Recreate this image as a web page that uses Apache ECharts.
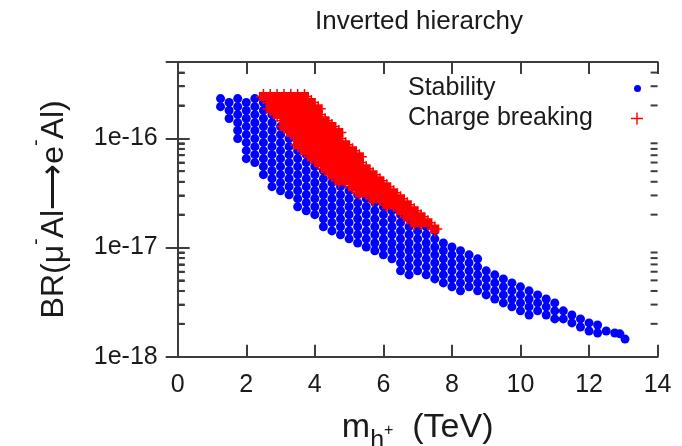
<!DOCTYPE html>
<html>
<head>
<meta charset="utf-8">
<script src="https://cdn.jsdelivr.net/npm/echarts@6/dist/echarts.min.js"></script>
<style>
  html, body { margin: 0; padding: 0; background: #fff; }
  #chart { width: 682px; height: 446px; }
</style>
</head>
<body>
<div id="chart"></div>
<script>
// m_h+ (TeV) columns of the "Stability" points, with the BR values read in each column
const stabX = [1.25, 1.5, 1.75, 2.0, 2.25, 2.5, 2.75, 3.0, 3.25, 3.5, 3.75, 4.0, 4.25, 4.5, 4.75,
  5.0, 5.25, 5.5, 5.75, 6.0, 6.25, 6.5, 6.75, 7.0, 7.25, 7.5, 7.75, 8.0, 8.25, 8.5, 8.75,
  9.0, 9.25, 9.5, 9.75, 10.0, 10.25, 10.5, 10.75, 11.0, 11.25, 11.5, 11.75, 12.0, 12.25,
  12.5, 12.75, 12.9, 13.05]
const stabY = [
  [2.31e-16, 1.95e-16],
  [2.13e-16, 1.80e-16, 1.52e-16],
  [2.31e-16, 1.95e-16, 1.65e-16, 1.39e-16, 1.18e-16, 9.94e-17],
  [2.13e-16, 1.80e-16, 1.52e-16, 1.28e-16, 1.08e-16, 9.13e-17, 7.71e-17, 6.51e-17],
  [2.31e-16, 1.95e-16, 1.65e-16, 1.39e-16, 1.18e-16, 9.94e-17, 8.39e-17, 7.09e-17, 5.99e-17],
  [2.13e-16, 1.80e-16, 1.52e-16, 1.28e-16, 1.08e-16, 9.13e-17, 7.71e-17, 6.51e-17, 5.50e-17, 4.65e-17],
  [1.65e-16, 1.39e-16, 1.18e-16, 9.94e-17, 8.39e-17, 7.09e-17, 5.99e-17, 5.05e-17, 4.27e-17, 3.61e-17],
  [1.28e-16, 1.08e-16, 9.13e-17, 7.71e-17, 6.51e-17, 5.50e-17, 4.65e-17, 3.92e-17, 3.31e-17],
  [1.18e-16, 9.94e-17, 8.39e-17, 7.09e-17, 5.99e-17, 5.05e-17, 4.27e-17, 3.61e-17, 3.04e-17],
  [9.13e-17, 7.71e-17, 6.51e-17, 5.50e-17, 4.65e-17, 3.92e-17, 3.31e-17, 2.80e-17, 2.36e-17],
  [7.09e-17, 5.99e-17, 5.05e-17, 4.27e-17, 3.61e-17, 3.04e-17, 2.57e-17, 2.17e-17],
  [6.51e-17, 5.50e-17, 4.65e-17, 3.92e-17, 3.31e-17, 2.80e-17, 2.36e-17, 2.00e-17],
  [5.05e-17, 4.27e-17, 3.61e-17, 3.04e-17, 2.57e-17, 2.17e-17, 1.83e-17, 1.55e-17],
  [4.65e-17, 3.92e-17, 3.31e-17, 2.80e-17, 2.36e-17, 2.00e-17, 1.69e-17, 1.42e-17],
  [4.27e-17, 3.61e-17, 3.04e-17, 2.57e-17, 2.17e-17, 1.83e-17, 1.55e-17, 1.31e-17],
  [3.31e-17, 2.80e-17, 2.36e-17, 2.00e-17, 1.69e-17, 1.42e-17, 1.20e-17],
  [3.04e-17, 2.57e-17, 2.17e-17, 1.83e-17, 1.55e-17, 1.31e-17, 1.10e-17],
  [2.80e-17, 2.36e-17, 2.00e-17, 1.69e-17, 1.42e-17, 1.20e-17, 1.01e-17],
  [2.57e-17, 2.17e-17, 1.83e-17, 1.55e-17, 1.31e-17, 1.10e-17, 9.33e-18],
  [2.36e-17, 2.00e-17, 1.69e-17, 1.42e-17, 1.20e-17, 1.01e-17, 8.57e-18],
  [2.17e-17, 1.83e-17, 1.55e-17, 1.31e-17, 1.10e-17, 9.33e-18, 7.88e-18],
  [2.00e-17, 1.69e-17, 1.42e-17, 1.20e-17, 1.01e-17, 8.57e-18, 7.24e-18, 6.11e-18],
  [1.83e-17, 1.55e-17, 1.31e-17, 1.10e-17, 9.33e-18, 7.88e-18, 6.65e-18, 5.62e-18],
  [1.69e-17, 1.42e-17, 1.20e-17, 1.01e-17, 8.57e-18, 7.24e-18, 6.11e-18],
  [1.55e-17, 1.31e-17, 1.10e-17, 9.33e-18, 7.88e-18, 6.65e-18, 5.62e-18],
  [1.42e-17, 1.20e-17, 1.01e-17, 8.57e-18, 7.24e-18, 6.11e-18, 5.16e-18],
  [1.10e-17, 9.33e-18, 7.88e-18, 6.65e-18, 5.62e-18, 4.74e-18],
  [1.01e-17, 8.57e-18, 7.24e-18, 6.11e-18, 5.16e-18, 4.36e-18],
  [9.33e-18, 7.88e-18, 6.65e-18, 5.62e-18, 4.74e-18, 4.01e-18],
  [8.57e-18, 7.24e-18, 6.11e-18, 5.16e-18, 4.36e-18],
  [7.88e-18, 6.65e-18, 5.62e-18, 4.74e-18, 4.01e-18],
  [6.11e-18, 5.16e-18, 4.36e-18, 3.68e-18],
  [5.62e-18, 4.74e-18, 4.01e-18, 3.38e-18],
  [5.16e-18, 4.36e-18, 3.68e-18, 3.11e-18],
  [4.74e-18, 4.01e-18, 3.38e-18, 2.86e-18],
  [4.36e-18, 3.68e-18, 3.11e-18, 2.63e-18],
  [4.01e-18, 3.38e-18, 2.86e-18, 2.41e-18],
  [3.68e-18, 3.11e-18, 2.63e-18],
  [3.38e-18, 2.86e-18, 2.41e-18],
  [3.11e-18, 2.63e-18, 2.22e-18],
  [2.63e-18, 2.22e-18],
  [2.41e-18, 2.04e-18],
  [2.22e-18, 1.87e-18],
  [2.04e-18, 1.72e-18],
  [1.95e-18, 1.65e-18],
  [1.72e-18],
  [1.65e-18],
  [1.62e-18],
  [1.45e-18]
]

// "Charge breaking" points, same layout
const chargeX = [2.5, 2.7, 2.9, 3.1, 3.3, 3.5, 3.7, 3.9, 4.1, 4.3, 4.5, 4.7, 4.9, 5.1, 5.3,
  5.5, 5.7, 5.9, 6.1, 6.3, 6.5, 6.7, 6.9, 7.1, 7.3, 7.5]
const chargeY = [
  [2.41e-16],
  [2.41e-16, 2.13e-16, 1.87e-16],
  [2.41e-16, 2.13e-16, 1.87e-16, 1.65e-16],
  [2.41e-16, 2.13e-16, 1.87e-16, 1.65e-16, 1.45e-16, 1.28e-16],
  [2.41e-16, 2.13e-16, 1.87e-16, 1.65e-16, 1.45e-16, 1.28e-16, 1.13e-16],
  [2.41e-16, 2.13e-16, 1.87e-16, 1.65e-16, 1.45e-16, 1.28e-16, 1.13e-16, 9.94e-17, 8.75e-17],
  [2.41e-16, 2.13e-16, 1.87e-16, 1.65e-16, 1.45e-16, 1.28e-16, 1.13e-16, 9.94e-17, 8.75e-17, 7.71e-17],
  [2.13e-16, 1.87e-16, 1.65e-16, 1.45e-16, 1.28e-16, 1.13e-16, 9.94e-17, 8.75e-17, 7.71e-17, 6.79e-17],
  [1.87e-16, 1.65e-16, 1.45e-16, 1.28e-16, 1.13e-16, 9.94e-17, 8.75e-17, 7.71e-17, 6.79e-17, 5.99e-17],
  [1.45e-16, 1.28e-16, 1.13e-16, 9.94e-17, 8.75e-17, 7.71e-17, 6.79e-17, 5.99e-17, 5.27e-17],
  [1.28e-16, 1.13e-16, 9.94e-17, 8.75e-17, 7.71e-17, 6.79e-17, 5.99e-17, 5.27e-17, 4.65e-17],
  [1.13e-16, 9.94e-17, 8.75e-17, 7.71e-17, 6.79e-17, 5.99e-17, 5.27e-17, 4.65e-17, 4.09e-17],
  [8.75e-17, 7.71e-17, 6.79e-17, 5.99e-17, 5.27e-17, 4.65e-17, 4.09e-17],
  [7.71e-17, 6.79e-17, 5.99e-17, 5.27e-17, 4.65e-17, 4.09e-17, 3.61e-17],
  [6.79e-17, 5.99e-17, 5.27e-17, 4.65e-17, 4.09e-17, 3.61e-17, 3.18e-17],
  [5.27e-17, 4.65e-17, 4.09e-17, 3.61e-17, 3.18e-17],
  [4.65e-17, 4.09e-17, 3.61e-17, 3.18e-17, 2.80e-17],
  [4.09e-17, 3.61e-17, 3.18e-17, 2.80e-17],
  [3.61e-17, 3.18e-17, 2.80e-17, 2.46e-17],
  [3.18e-17, 2.80e-17, 2.46e-17],
  [2.80e-17, 2.46e-17, 2.17e-17],
  [2.46e-17, 2.17e-17, 1.91e-17],
  [2.17e-17, 1.91e-17, 1.69e-17],
  [1.91e-17, 1.69e-17],
  [1.69e-17],
  [1.48e-17]
]

// minor ticks of the log axis (2..9 in every decade)
const yMinorTicks = [2e-18, 3e-18, 4e-18, 5e-18, 6e-18, 7e-18, 8e-18, 9e-18,
  2e-17, 3e-17, 4e-17, 5e-17, 6e-17, 7e-17, 8e-17, 9e-17,
  2e-16, 3e-16, 4e-16]

const font = 'Liberation Sans, Arial, Helvetica, sans-serif'
const textColor = '#1a1a1a'
const frameColor = '#3c3c3c'
// solid core with thin arms, so a dense cloud of crosses reads as one filled patch
const crossMark = 'path://M6.75,0H8.25V3H12V6.75H15V8.25H12V12H8.25V15H6.75V12H3V8.25H0V6.75H3V3H6.75Z'
const thinPlus = 'path://M4.4,0H5.6V4.4H10V5.6H5.6V10H4.4V5.6H0V4.4H4.4Z'

function toPoints(xs, ys) {
  const pts = []
  xs.forEach((x, i) => ys[i].forEach(y => pts.push([x, y])))
  return pts
}

// one entry per tick and side: [side, value], side 0 = left frame, 1 = right frame
const minorTickData = []
yMinorTicks.forEach(v => { minorTickData.push([0, v]); minorTickData.push([1, v]) })

const frameLine = { show: true, lineStyle: { color: frameColor, width: 2 } }
const majorTick = { show: true, inside: true, length: 12, lineStyle: { color: frameColor, width: 2 } }

function decadeLabel(v) {
  const e = Math.log10(v)
  if (Math.abs(e - Math.round(e)) > 1e-6) return ''
  return '1e' + Math.round(e)
}

const chart = echarts.init(document.getElementById('chart'))
chart.setOption({
  animation: false,
  backgroundColor: '#fff',
  title: {
    text: 'Inverted hierarchy',
    left: 419,
    top: 9,
    padding: 0,
    textAlign: 'center',
    textStyle: { fontFamily: font, fontSize: 26, fontWeight: 'normal', color: textColor }
  },
  legend: [
    {
      data: ['Stability'],
      left: 408,
      top: 76,
      padding: 0,
      align: 'right',
      icon: 'circle',
      itemWidth: 7,
      itemHeight: 7,
      selectedMode: false,
      formatter: '{t|{name}}',
      textStyle: {
        rich: { t: { width: 221, align: 'left', fontFamily: font, fontSize: 25, lineHeight: 30, color: textColor } }
      }
    },
    {
      data: ['Charge breaking'],
      left: 408,
      top: 106,
      padding: 0,
      align: 'right',
      icon: thinPlus,
      itemWidth: 12,
      itemHeight: 12,
      selectedMode: false,
      formatter: '{t|{name}}',
      textStyle: {
        rich: { t: { width: 218, align: 'left', fontFamily: font, fontSize: 25, lineHeight: 30, color: textColor } }
      }
    }
  ],
  grid: {
    left: 177.7,
    right: 24.4,
    top: 62,
    bottom: 89.3,
    outerBoundsMode: 'none'
  },
  xAxis: [
    {
      type: 'value',
      min: 0,
      max: 14,
      interval: 2,
      position: 'bottom',
      axisLine: frameLine,
      axisTick: majorTick,
      splitLine: { show: false },
      axisLabel: { fontFamily: font, fontSize: 25, color: textColor, margin: 16 },
      name: '{a|m}{b|h}{c|+}{a|  (TeV)}',
      nameLocation: 'middle',
      nameGap: 27,
      nameTextStyle: {
        rich: {
          a: { fontFamily: font, fontSize: 34, lineHeight: 40, color: textColor, verticalAlign: 'middle' },
          b: { fontFamily: font, fontSize: 25, lineHeight: 25, color: textColor, verticalAlign: 'middle', padding: [26, 0, 0, 0] },
          c: { fontFamily: font, fontSize: 16, lineHeight: 16, color: textColor, verticalAlign: 'middle', padding: [5, 0, 0, 0] }
        }
      }
    },
    {
      type: 'value',
      min: 0,
      max: 14,
      interval: 2,
      position: 'top',
      axisLine: frameLine,
      axisTick: majorTick,
      splitLine: { show: false },
      axisLabel: { show: false }
    }
  ],
  yAxis: [
    {
      type: 'log',
      logBase: 10,
      min: 1e-18,
      max: 5e-16,
      position: 'left',
      axisLine: frameLine,
      axisTick: majorTick,
      splitLine: { show: false },
      axisLabel: { fontFamily: font, fontSize: 25, color: textColor, margin: 20, formatter: decadeLabel },
      name: '{n|BR(μ}{s|-}{n|Al}{n|⟶}{n|e}{s|-}{n|Al)}',
      nameLocation: 'middle',
      nameRotate: 90,
      nameGap: 104,
      nameTextStyle: {
        rich: {
          n: { fontFamily: font, fontSize: 32, lineHeight: 40, color: textColor, verticalAlign: 'middle' },
          s: { fontFamily: font, fontSize: 20, lineHeight: 20, color: textColor, verticalAlign: 'middle', padding: [0, 0, 35, 0] }
        }
      }
    },
    {
      type: 'log',
      logBase: 10,
      min: 1e-18,
      max: 5e-16,
      position: 'right',
      axisLine: frameLine,
      axisTick: majorTick,
      splitLine: { show: false },
      axisLabel: { show: false }
    },
    {
      // left-frame minor ticks, drawn by an extra axis that spans the same decades (log10 units)
      type: 'value',
      min: -18,
      max: Math.log10(5e-16),
      position: 'left',
      offset: 0,
      axisLine: { show: false },
      splitLine: { show: false },
      axisLabel: { show: false },
      axisTick: {
        show: true,
        inside: true,
        length: 7,
        customValues: yMinorTicks.map(v => Math.log10(v)),
        lineStyle: { color: frameColor, width: 2 }
      }
    }
  ],
  series: [
    {
      name: 'Stability',
      type: 'scatter',
      symbol: 'circle',
      symbolSize: 9,
      clip: false,
      itemStyle: { color: '#0000ff', opacity: 1 },
      emphasis: { disabled: true },
      data: toPoints(stabX, stabY)
    },
    {
      name: 'Charge breaking',
      type: 'scatter',
      symbol: crossMark,
      symbolSize: 15,
      clip: false,
      itemStyle: { color: '#ff0000', opacity: 1 },
      emphasis: { disabled: true },
      data: toPoints(chargeX, chargeY)
    },
    {
      // minor ticks on both log-axis sides
      type: 'custom',
      silent: true,
      clip: false,
      z: 5,
      encode: { x: 0, y: 1 },
      data: minorTickData,
      renderItem: function (params, api) {
        const cs = params.coordSys
        const y = api.coord([7, api.value(1)])[1]
        const x0 = api.value(0) === 0 ? cs.x : cs.x + cs.width - 7
        return {
          type: 'rect',
          shape: { x: x0, y: y - 1, width: 7, height: 2 },
          style: { fill: frameColor }
        }
      }
    }
  ]
})
</script>
</body>
</html>
